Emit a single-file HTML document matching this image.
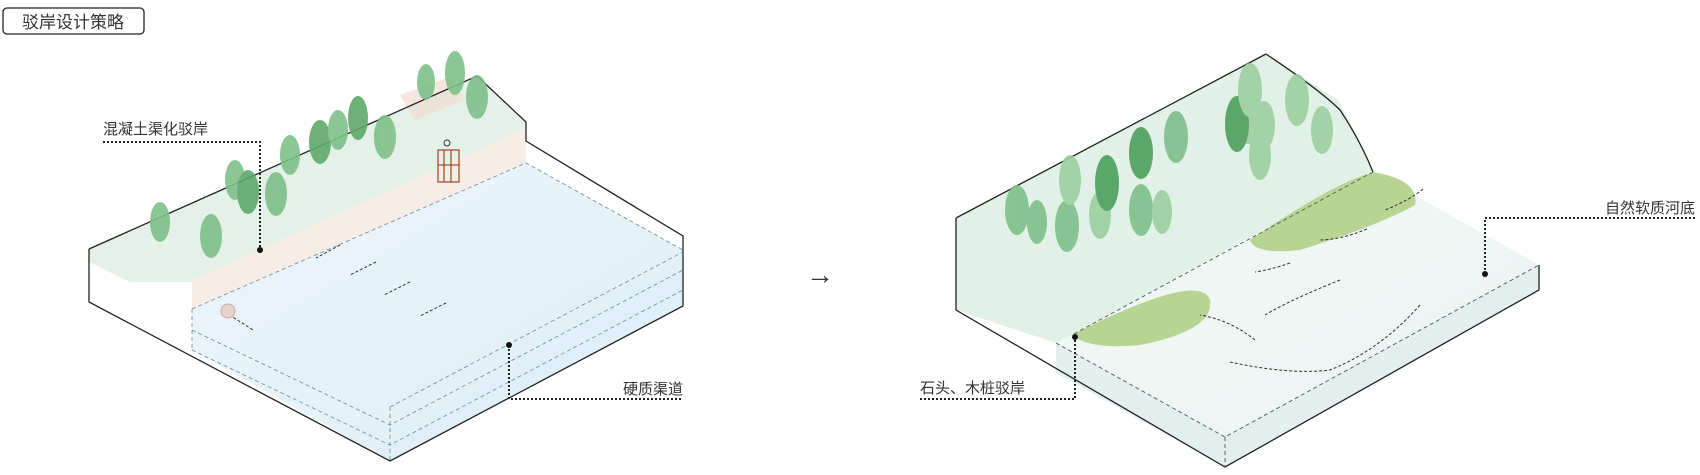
<!DOCTYPE html>
<html><head><meta charset="utf-8"><style>
html,body{margin:0;padding:0;background:#fff;}
svg{display:block}
text{font-family:"Liberation Sans","Noto Sans CJK SC",sans-serif;fill:#333}
</style></head><body>
<svg width="1700" height="475" viewBox="0 0 1700 475" xmlns="http://www.w3.org/2000/svg">
<defs>
<linearGradient id="w1" x1="0" y1="0" x2="1" y2="1"><stop offset="0" stop-color="#eef6fb"/><stop offset="1" stop-color="#dbeef7"/></linearGradient>
<linearGradient id="w2" x1="0" y1="0" x2="1" y2="1"><stop offset="0" stop-color="#f3f8f6"/><stop offset="1" stop-color="#eaf3f2"/></linearGradient>
</defs>
<!-- title box -->
<rect x="3" y="8" width="141" height="26" rx="4" fill="#fff" stroke="#222" stroke-width="1.3"/>
<text x="22" y="28" font-size="17">驳岸设计策略</text>

<!-- LEFT BLOCK -->
<polygon points="89,249 477,76 526,122 526,130 192,282 130,282 89,262" fill="#e4f1e8"/>
<polygon points="192,280 526,128 526,163 192,309" fill="#f6ede6"/>
<polygon points="400,95 450,77 465,100 415,120" fill="#f1dcd2" opacity="0.7"/>
<polygon points="192,309 526,163 683,250 683,306 390,461 192,350" fill="url(#w1)"/>
<g fill="none" stroke="#222" stroke-width="1.3">
<polyline points="89,249 477,76 526,122 526,141 683,236 683,306 390,461 89,302 89,249"/>
</g>
<g fill="none" stroke="#6f8795" stroke-width="0.8" stroke-dasharray="4,3">
<polyline points="192,309 526,163 683,250"/>
<polyline points="192,350 390,445 683,290"/>
<polyline points="192,309 192,350"/>
<polyline points="390,407 390,461"/>
<polyline points="192,330 390,425 683,270"/>
<polyline points="390,407 683,252"/>
</g>
<g stroke="#333" stroke-width="1" stroke-dasharray="3,2" fill="#333">
<line x1="340" y1="245" x2="316" y2="258"/><line x1="376" y1="262" x2="350" y2="275"/>
<line x1="410" y1="282" x2="384" y2="295"/><line x1="446" y1="303" x2="420" y2="316"/>
<line x1="225" y1="312" x2="253" y2="330"/>
</g>
<circle cx="228" cy="311" r="7" fill="#e8d2cc" stroke="#c9a79c"/>
<g stroke="#a0532e" stroke-width="1.3" fill="none"><rect x="438" y="150" width="21" height="32"/><line x1="444" y1="150" x2="444" y2="182"/><line x1="451" y1="150" x2="451" y2="182"/><line x1="438" y1="165" x2="459" y2="165"/></g>
<circle cx="447" cy="143" r="3" fill="none" stroke="#333"/>
<g fill="#7fc08a" opacity="0.9">
<ellipse cx="160" cy="222" rx="10" ry="20"/><ellipse cx="211" cy="236" rx="11" ry="22"/>
<ellipse cx="235" cy="180" rx="10" ry="20"/><ellipse cx="248" cy="192" rx="11" ry="22" fill="#5ea96b"/>
<ellipse cx="276" cy="194" rx="11" ry="22"/><ellipse cx="290" cy="155" rx="10" ry="20"/>
<ellipse cx="320" cy="142" rx="11" ry="22" fill="#5ea96b"/><ellipse cx="338" cy="130" rx="10" ry="20"/>
<ellipse cx="358" cy="118" rx="10" ry="22" fill="#5ea96b"/><ellipse cx="385" cy="137" rx="11" ry="22"/>
<ellipse cx="426" cy="82" rx="9" ry="18"/><ellipse cx="455" cy="73" rx="10" ry="22"/><ellipse cx="477" cy="97" rx="11" ry="22"/>
</g>
<text x="103" y="134" font-size="15">混凝土渠化驳岸</text>
<polyline points="103,142 260,142 260,250" fill="none" stroke="#222" stroke-width="2" stroke-dasharray="2,2"/>
<circle cx="260" cy="250" r="3" fill="#111"/>
<text x="683" y="394" font-size="15" text-anchor="end">硬质渠道</text>
<polyline points="509,345 509,399 683,399" fill="none" stroke="#222" stroke-width="2" stroke-dasharray="2,2"/>
<circle cx="509" cy="345" r="3" fill="#111"/>

<text x="806" y="284" font-size="28" fill="#222">→</text>

<!-- RIGHT BLOCK -->
<polygon points="1373,172 1539,265 1539,290 1225,467 1225,437 1056,343 1072,335" fill="url(#w2)"/>
<polygon points="1056,343 1225,437 1539,265 1539,290 1225,467 1056,373" fill="#e3eeee"/>
<polygon points="956,218 1266,54 1338,100 1359,140 1373,170 1072,335 1056,343 956,310" fill="#e2f1e7"/>
<path d="M1072,335 Q1200,270 1210,300 Q1215,330 1140,345 Q1090,350 1072,335Z" fill="#b7d493"/>
<path d="M1250,240 Q1330,185 1373,172 Q1420,180 1415,205 Q1380,225 1300,250 Q1255,255 1250,240Z" fill="#b7d493"/>
<g fill="none" stroke="#222" stroke-width="1.3">
<polyline points="956,218 1266,54"/>
<path d="M1266,54 Q1320,90 1340,110 Q1360,140 1373,172"/>
<polyline points="956,218 956,310 1225,467 1539,290 1539,265"/>
</g>
<g fill="none" stroke="#555" stroke-width="0.9" stroke-dasharray="4,3">
<polyline points="1373,172 1072,335"/>
<polyline points="1056,343 1225,437 1539,265"/>
<line x1="1225" y1="437" x2="1225" y2="467"/>
</g>
<g stroke="#333" stroke-width="1" stroke-dasharray="3,2" fill="none">
<path d="M1423,189 Q1410,200 1385,210"/>
<path d="M1367,229 Q1340,240 1320,240"/>
<path d="M1290,263 Q1270,270 1255,272"/>
<path d="M1255,340 Q1230,320 1200,315"/>
<path d="M1420,305 Q1380,350 1330,370 Q1290,375 1230,362"/>
<path d="M1340,280 Q1290,300 1265,315"/>
</g>
<g fill="#7fc08a" opacity="0.9">
<ellipse cx="1017" cy="210" rx="12" ry="25"/><ellipse cx="1037" cy="222" rx="10" ry="22"/>
<ellipse cx="1067" cy="226" rx="12" ry="26"/><ellipse cx="1070" cy="180" rx="11" ry="25" fill="#9ccf9f"/>
<ellipse cx="1100" cy="215" rx="11" ry="24" fill="#9ccf9f"/><ellipse cx="1107" cy="183" rx="12" ry="28" fill="#4d9f5c"/>
<ellipse cx="1141" cy="210" rx="12" ry="26"/><ellipse cx="1162" cy="212" rx="10" ry="22" fill="#9ccf9f"/>
<ellipse cx="1141" cy="153" rx="12" ry="26" fill="#4d9f5c"/><ellipse cx="1176" cy="137" rx="12" ry="26"/>
<ellipse cx="1248" cy="118" rx="12" ry="26" fill="#9ccf9f"/><ellipse cx="1237" cy="124" rx="12" ry="28" fill="#4d9f5c"/>
<ellipse cx="1264" cy="125" rx="11" ry="24" fill="#9ccf9f"/><ellipse cx="1297" cy="100" rx="12" ry="26" fill="#9ccf9f"/>
<ellipse cx="1322" cy="130" rx="11" ry="24" fill="#9ccf9f"/><ellipse cx="1250" cy="90" rx="12" ry="27" fill="#9ccf9f"/>
<ellipse cx="1260" cy="155" rx="11" ry="25" fill="#9ccf9f"/>
</g>
<text x="1695" y="213" font-size="15" text-anchor="end">自然软质河底</text>
<polyline points="1695,218 1485,218 1485,274" fill="none" stroke="#222" stroke-width="2" stroke-dasharray="2,2"/>
<circle cx="1485" cy="274" r="3" fill="#111"/>
<text x="920" y="393" font-size="15">石头、木桩驳岸</text>
<polyline points="920,399 1075,399 1075,337" fill="none" stroke="#222" stroke-width="2" stroke-dasharray="2,2"/>
<circle cx="1075" cy="337" r="3" fill="#111"/>
</svg>
</body></html>
